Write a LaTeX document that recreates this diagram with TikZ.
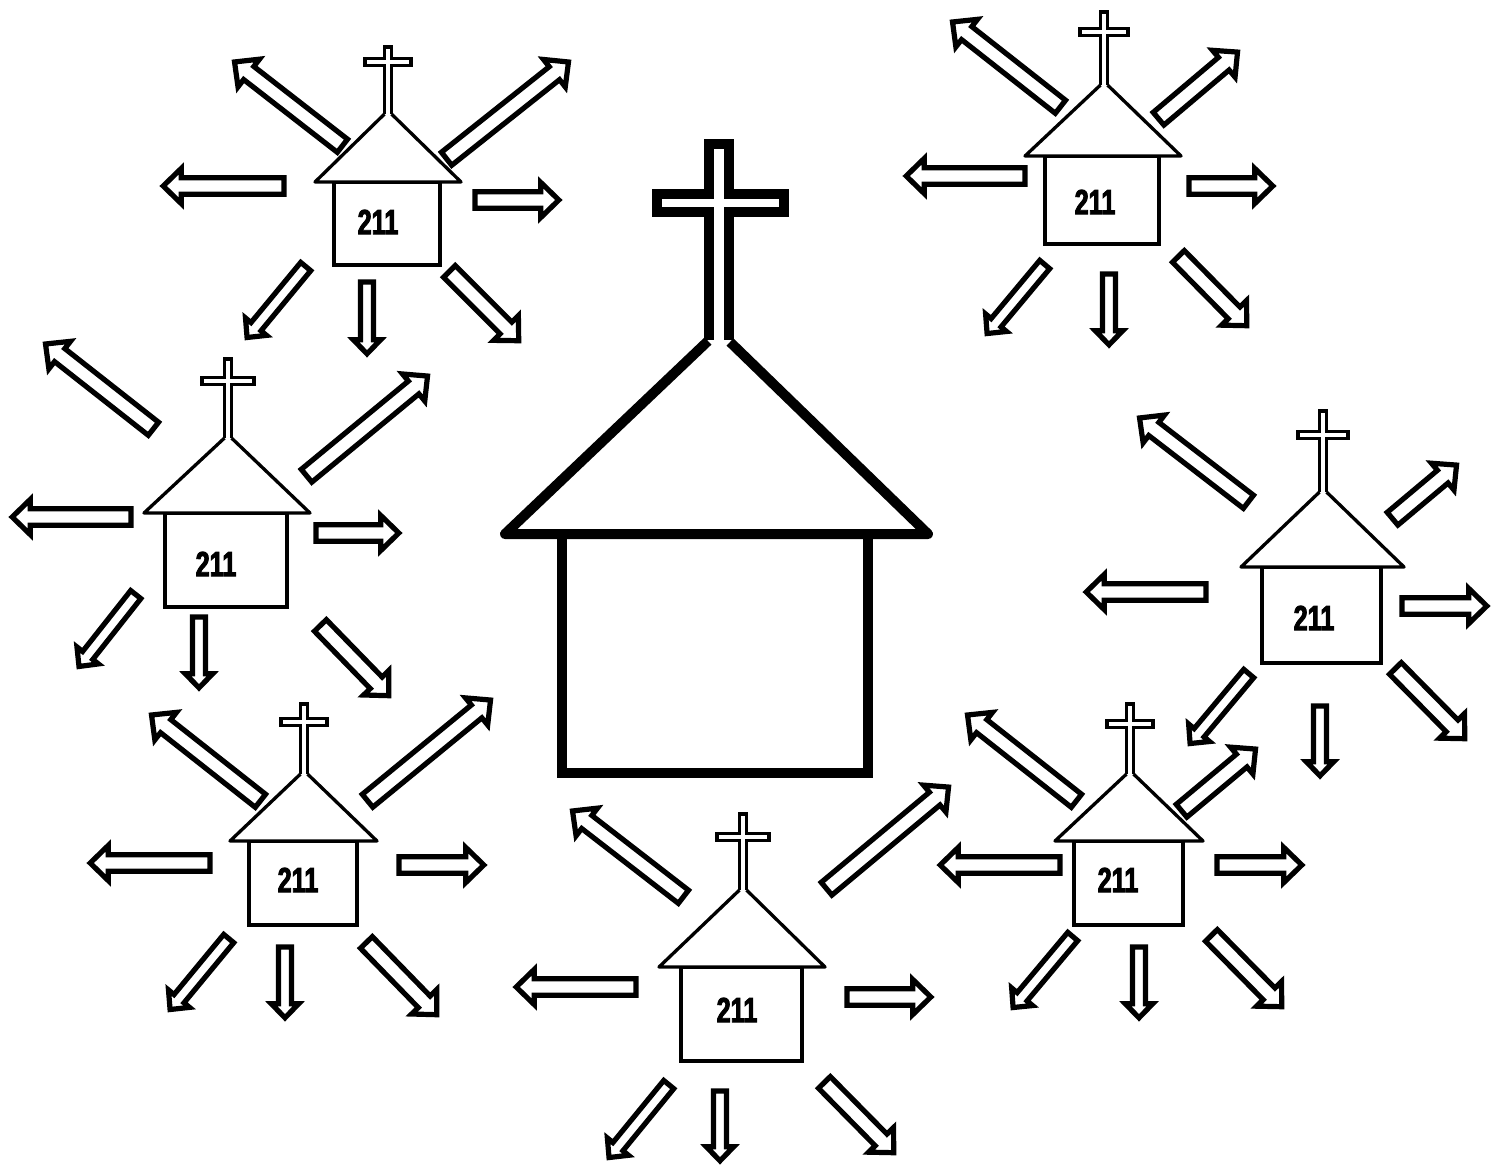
\documentclass[tikz,border=0pt]{standalone}
\usepackage{fontspec}
\setmainfont{Liberation Sans}
\newfontfamily\labelfont[FakeStretch=0.72,FakeBold=2.6]{Liberation Sans Bold}
\tikzset{
	arrowline/.style={draw=black,fill=white,line width=5.2pt,miter limit=10},
	thinline/.style={draw=black,fill=white,line width=3.3pt},
	thickline/.style={draw=black,fill=white,line width=10pt},
	churchlabel/.style={font=\labelfont\fontsize{35}{35}\selectfont,inner sep=0pt}
}
\newcommand{\blockarrow}[5]{
	\pgfmathsetmacro{\arrowangle}{atan2(#2-#4,#3-#1)}
	\pgfmathsetmacro{\arrowlen}{veclen(#3-#1,#4-#2)-3.2}
	\pgfmathsetmacro{\shafthalf}{8.3*#5}
	\pgfmathsetmacro{\headhalf}{17.5*#5}
	\pgfmathsetmacro{\headback}{\arrowlen-18*#5}
	\draw[arrowline,shift={(#1,#2)},rotate=\arrowangle]
		(2,\shafthalf) -- (\headback,\shafthalf) -- (\headback,\headhalf) -- (\arrowlen,0)
		-- (\headback,-\headhalf) -- (\headback,-\shafthalf) -- (2,-\shafthalf) -- cycle;
}
\begin{document}
\begin{tikzpicture}[x=1pt,y=-1pt]
	\useasboundingbox (0,0) rectangle (1501,1164);
	\foreach \tailx/\taily/\tipx/\tipy/\arrowsize in {
		344/147/232/60/1, 445/160/571/60/1, 286/186/160/186/1, 473/200/562/200/1, 307/265/245/340/.78, 367/280/367/357/.78, 448/270/521/343/1,
		1062/108/950/20/1, 1157/120/1240/50/1, 1027/176/903/176/1, 1187/186/1276/186/1, 1046/263/985/336/.78, 1109/272/1109/348/.78, 1177/255/1249/328/1,
		155/430/43/342/1, 305/477/430/374/1, 133/517/9/517/1, 314/533/402/533/1, 137/593/77/669/.78, 199/615/199/691/.78, 319/624/391/698/1,
		1250/503/1137/416/1, 1391/520/1459/463/1, 1208/592/1083/592/1, 1400/606/1490/606/1, 1250/672/1188/746/.78, 1320/704/1320/779/.78, 1394/667/1467/741/1,
		262/802/149/713/1, 366/802/493/698/1, 212/863/87/863/1, 397/865/487/865/1, 230/937/168/1012/.78, 285/945/285/1021/.78, 365/941/439/1017/1,
		1078/802/965/713/1, 1180/812/1258/747/1, 1062/865/937/865/1, 1215/865/1305/865/1, 1074/935/1011/1010/.78, 1139/945/1139/1021/.78, 1210/934/1284/1009/1,
		685/898/570/809/1, 825/890/951/785/1, 638/987/513/987/1, 845/997/934/997/1, 670/1083/607/1160/.78, 720/1089/720/1164/.78, 823/1081/896/1155/1}
		{\blockarrow{\tailx}{\taily}{\tipx}{\tipy}{\arrowsize}}
	\foreach \crossx/\crosstop/\bary/\barhalf/\apexy/\eavey/\roofl/\roofr/\boxl/\boxr/\boxb/\labx/\laby [count=\i] in {
		388/47/62/23/114/182/315/461/334/440/265/378/222,
		1104/12/32/24/85/156/1025/1181/1045/1159/244/1095/202,
		228/359/381/26/438/513/144/310/165/287/607/216/564,
		1323/411/435/25/492/567/1241/1404/1262/1381/663/1314/618,
		304/704/722/23/774/841/230/377/249/357/925/298/880,
		1130/704/724/23/774/841/1055/1203/1074/1183/925/1118/880,
		743/814/837/26/890/967/659/825/681/802/1061/737/1010}
	{
		\draw[thinline] (\boxl,\eavey) rectangle (\boxr,\boxb);
		\draw[thinline,line join=round] (\crossx-3.5,\apexy) -- (\roofl,\eavey) -- (\roofr,\eavey) -- (\crossx+3.5,\apexy);
		\draw[thinline] (\crossx-3.5,\apexy) -- (\crossx-3.5,\bary+3.5) -- (\crossx-\barhalf,\bary+3.5) -- (\crossx-\barhalf,\bary-3.5)
			-- (\crossx-3.5,\bary-3.5) -- (\crossx-3.5,\crosstop) -- (\crossx+3.5,\crosstop) -- (\crossx+3.5,\bary-3.5)
			-- (\crossx+\barhalf,\bary-3.5) -- (\crossx+\barhalf,\bary+3.5) -- (\crossx+3.5,\bary+3.5) -- (\crossx+3.5,\apexy);
		\node[churchlabel] (label\i) at (\labx,\laby) {211};
	}
	\coordinate (apexl) at (708,341);
	\coordinate (apexr) at (730,342);
	\coordinate (eavel) at (505,534);
	\coordinate (eaver) at (928,534);
	\draw[thickline] (562,534) rectangle (868,773);
	\draw[thickline,line join=round] (apexl) -- (eavel) -- (eaver) -- (apexr);
	\draw[thickline] (709,340) -- (709,212) -- (657,212) -- (657,194) -- (709,194) -- (709,144)
		-- (729,144) -- (729,194) -- (784,194) -- (784,212) -- (729,212) -- (729,340);
\end{tikzpicture}
\end{document}
